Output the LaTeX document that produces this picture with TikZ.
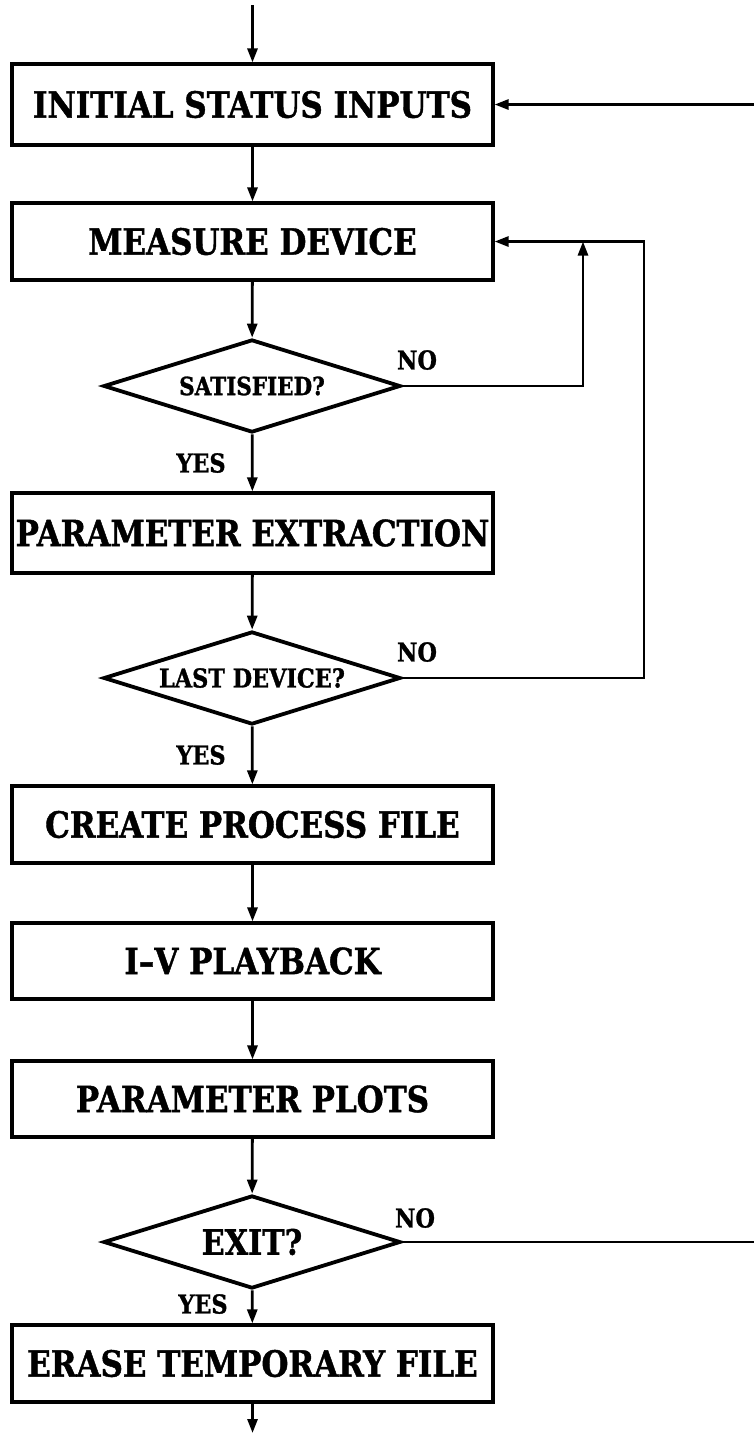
\documentclass[tikz,border=0pt]{standalone}
\usepackage{fontspec}
\setmainfont{DejaVu Serif}[BoldFeatures={FakeStretch=0.86,FakeBold=1.2}]
\usetikzlibrary{shapes.geometric,arrows.meta}

\begin{document}
\begin{tikzpicture}[x=1pt,y=-1pt,
  procbox/.style={draw,line width=3.2pt,minimum width=481pt,inner sep=0pt,
    font=\fontsize{36}{40}\selectfont\bfseries},
  decide/.style={draw,diamond,line width=3.8pt,minimum width=297pt,
    minimum height=93pt,inner sep=0pt,aspect=3.19},
  flow/.style={line width=2.8pt,-{Triangle[width=10pt,length=14pt]}},
  plain/.style={line width=2.8pt},
  answer/.style={font=\fontsize{26}{28}\selectfont\bfseries,inner sep=0pt}
]
\useasboundingbox (0,0) rectangle (754,1433);

% process boxes
\node[procbox,minimum height=81pt] (b1) at (252.5,104.5) {INITIAL STATUS INPUTS};
\node[procbox,minimum height=77pt] (b2) at (252.5,241.5) {MEASURE DEVICE};
\node[procbox,minimum height=80pt] (b3) at (252.5,533) {PARAMETER EXTRACTION};
\node[procbox,minimum height=77pt] (b4) at (252.5,824.5) {CREATE PROCESS FILE};
\node[procbox,minimum height=76pt] (b5) at (252.5,961) {I--V PLAYBACK};
\node[procbox,minimum height=76pt] (b6) at (252.5,1099) {PARAMETER PLOTS};
\node[procbox,minimum height=77pt] (b7) at (252.5,1363.5) {ERASE TEMPORARY FILE};

% decisions
\node[decide,font=\fontsize{25}{28}\selectfont\bfseries] (d1) at (252,386) {SATISFIED?};
\node[decide,font=\fontsize{26}{28}\selectfont\bfseries] (d2) at (252,678) {LAST DEVICE?};
\node[decide,font=\fontsize{35}{38}\selectfont\bfseries] (d3) at (252,1242) {EXIT?};

% branch labels
\node[answer] (no1) at (417,360) {NO};
\node[answer] (no2) at (417,652) {NO};
\node[answer] (no3) at (415,1218) {NO};
\node[answer] (yes1) at (201,463) {YES};
\node[answer] (yes2) at (201,755) {YES};
\node[answer] (yes3) at (203,1304) {YES};

% free ends and junctions
\coordinate (start) at (252.5,5);
\coordinate (stop) at (252.5,1433);
\coordinate (ret) at (754,104.5);
\coordinate (quit) at (754,1242);
\coordinate (j1) at (583,241.5);
\coordinate (j2) at (644,241.5);

% main flow
\draw[flow] (start) -- (b1.north);
\draw[flow] (b1) -- (b2);
\draw[flow] (b2) -- (d1);
\draw[flow] (d1) -- (b3);
\draw[flow] (b3) -- (d2);
\draw[flow] (d2) -- (b4);
\draw[flow] (b4) -- (b5);
\draw[flow] (b5) -- (b6);
\draw[flow] (b6) -- (d3);
\draw[flow] (d3) -- (b7);
\draw[flow] (b7.south) -- (stop);

% loops back
\draw[flow] (d1.east) -| (j1);
\draw[flow] (d2.east) -| (j2) -- (b2.east);
\draw[flow] (ret) -- (b1.east);
\draw[plain] (d3.east) -- (quit);
\end{tikzpicture}
\end{document}
